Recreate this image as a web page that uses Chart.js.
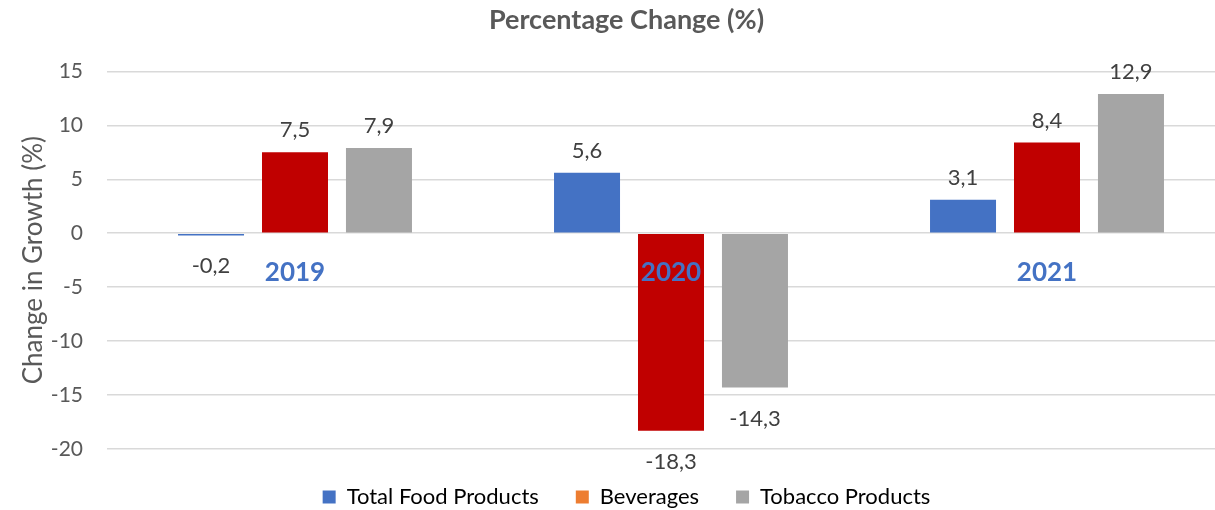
<!DOCTYPE html>
<html>
<head>
<meta charset="utf-8">
<script src="https://cdn.jsdelivr.net/npm/chart.js@4.4.0/dist/chart.umd.min.js"></script>
<style>
  html, body { margin: 0; padding: 0; background: #fff; overflow: hidden; }
  #wrap { width: 1240px; height: 510px; }
</style>
</head>
<body>
<div id="wrap"><canvas id="growth-chart"></canvas></div>
<script>
/* chart data */
let years = ['2019', '2020', '2021']
let seriesNames = ['Total Food Products', 'Beverages', 'Tobacco Products']
let foodValues = [-0.2, 5.6, 3.1]
let beverageValues = [7.5, -18.3, 8.4]
let tobaccoValues = [7.9, -14.3, 12.9]
let yTicks = [15, 10, 5, 0, -5, -10, -15, -20]

// bar colours and the (mismatched) legend colours of the original
let barColors = ['#4472C4', '#C00000', '#A5A5A5']
let legendColors = ['#4472C4', '#ED7D31', '#A5A5A5']

let fontName = 'Lato, "Open Sans", sans-serif'

// draws the value labels, comma as decimal sign
let valueLabels = {
    id: 'valueLabels',
    afterDatasetsDraw(chart) {
        let ctx = chart.ctx
        ctx.save()
        ctx.font = '22px ' + fontName
        ctx.fillStyle = '#404040'
        ctx.textAlign = 'center'
        ctx.textBaseline = 'middle'
        chart.data.datasets.forEach(function(ds, i) {
            let meta = chart.getDatasetMeta(i)
            meta.data.forEach(function(bar, j) {
                let v = ds.data[j]
                let text = v.toFixed(1).replace('.', ',')
                if (v >= 0) {
                    ctx.fillText(text, bar.x, bar.y - 22)
                } else {
                    ctx.fillText(text, bar.x, Math.max(bar.y, bar.base) + 31)
                }
            })
        })
        ctx.restore()
    }
}

let ctx = document.querySelector('#growth-chart').getContext('2d')

let growthChart = new Chart(ctx, {
    type: 'bar',
    data: {
        labels: years,
        datasets: [
            { label: seriesNames[0], data: foodValues, backgroundColor: barColors[0] },
            { label: seriesNames[1], data: beverageValues, backgroundColor: barColors[1] },
            { label: seriesNames[2], data: tobaccoValues, backgroundColor: barColors[2] }
        ]
    },
    options: {
        responsive: true,
        maintainAspectRatio: false,
        animation: false,
        devicePixelRatio: 1,
        layout: { padding: { left: 18, right: 5, top: 0, bottom: -8 } },
        datasets: {
            bar: { categoryPercentage: 0.67, barPercentage: 0.786 }
        },
        scales: {
            x: {
                position: { y: 0 },
                grid: { display: false },
                border: { display: false },
                ticks: {
                    z: 1,
                    autoSkip: false,
                    maxRotation: 0,
                    color: '#4472C4',
                    font: { family: fontName, size: 26, weight: 'bold' },
                    padding: 16
                }
            },
            y: {
                min: -20,
                max: 15,
                afterBuildTicks: function(scale) {
                    scale.ticks = yTicks.map(function(v) { return { value: v } })
                },
                afterFit: function(scale) { scale.width = 89 },
                grid: { color: '#D9D9D9', lineWidth: 1.5, drawTicks: false },
                border: { display: false },
                ticks: {
                    color: '#595959',
                    font: { family: fontName, size: 21 },
                    padding: 24
                },
                title: {
                    display: true,
                    text: 'Change in Growth (%)',
                    color: '#595959',
                    font: { family: fontName, size: 26 },
                    padding: 0
                }
            }
        },
        plugins: {
            title: {
                display: true,
                text: 'Percentage Change (%)',
                color: '#595959',
                font: { family: fontName, size: 27, weight: 'bold' },
                padding: { top: 4, bottom: 35 }
            },
            legend: {
                position: 'bottom',
                labels: {
                    color: '#595959',
                    font: { family: fontName, size: 22 },
                    boxWidth: 13,
                    boxHeight: 13,
                    padding: 37,
                    generateLabels: function(chart) {
                        return seriesNames.map(function(name, i) {
                            return {
                                text: name,
                                fillStyle: legendColors[i],
                                strokeStyle: legendColors[i],
                                lineWidth: 0,
                                datasetIndex: i
                            }
                        })
                    }
                }
            },
            tooltip: { enabled: false }
        }
    },
    plugins: [valueLabels]
})
</script>
</body>
</html>
